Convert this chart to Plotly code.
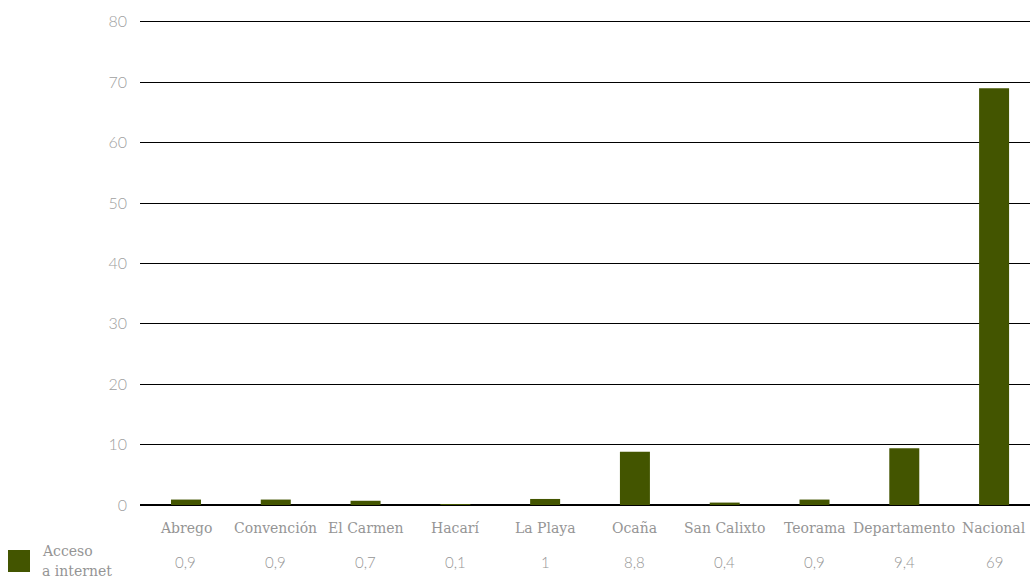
import plotly.graph_objects as go

categories = ["Abrego", "Convención", "El Carmen", "Hacarí", "La Playa", "Ocaña",
              "San Calixto", "Teorama", "Departamento", "Nacional"]
values = [0.9, 0.9, 0.7, 0.1, 1, 8.8, 0.4, 0.9, 9.4, 69]
value_labels = ["0,9", "0,9", "0,7", "0,1", "1", "8,8", "0,4", "0,9", "9,4", "69"]
series_lines = ["Acceso", "a internet"]
y_ticks = [0, 10, 20, 30, 40, 50, 60, 70, 80]

bar_color = "#435500"
gray = "#959595"
serif = "DejaVu Serif"
sans = "Lato"

W, H = 1030, 578
ml, mr, mt, mb = 140, 0, 20, 73
pw, ph = W - ml - mr, H - mt - mb


def px_to_paper(xp, yp):
    return (xp - ml) / pw, (H - mb - yp) / ph


fig = go.Figure()
fig.add_trace(go.Bar(x=list(range(len(categories))), y=values, marker_color=bar_color,
                     marker_line_width=0, width=0.334, showlegend=False))

annotations = []
for i, (c, lab) in enumerate(zip(categories, value_labels)):
    annotations.append(dict(x=i, y=0, xref="x", yref="y", text=c, showarrow=False,
                            yshift=-23, yanchor="middle",
                            font=dict(family=serif, size=14, color=gray, weight=300)))
    annotations.append(dict(x=i, y=0, xref="x", yref="y", text=lab, showarrow=False,
                            yshift=-57, yanchor="middle",
                            font=dict(family=sans, size=15, color=gray, weight=300)))
for k, line in enumerate(series_lines):
    xp, yp = px_to_paper(40, 551 + 20 * k)
    annotations.append(dict(x=xp, y=yp, xref="paper", yref="paper", text=line,
                            showarrow=False, xanchor="left", yanchor="middle",
                            font=dict(family=serif, size=14, color=gray, weight=300)))

fig.update_layout(
    width=W, height=H,
    margin=dict(l=ml, r=mr, t=mt, b=mb),
    plot_bgcolor="white", paper_bgcolor="white",
    xaxis=dict(showticklabels=False, showgrid=False, zeroline=False, showline=False,
               range=[-0.512, 9.40]),
    yaxis=dict(range=[0, 80.3], tickvals=y_ticks, showgrid=True, gridcolor="#000000",
               gridwidth=1, zeroline=True, zerolinecolor="#000000", zerolinewidth=1.5,
               showline=False, ticks="", ticklabelstandoff=12,
               tickfont=dict(family=sans, size=16, color="#a0a0a0", weight=300)),
    annotations=annotations,
)
x0, y1 = px_to_paper(8, 550)
x1, y0 = px_to_paper(30, 572)
fig.add_shape(type="rect", xref="paper", yref="paper", x0=x0, x1=x1, y0=y0, y1=y1,
              fillcolor=bar_color, line_width=0)

fig.write_html("out.html")
